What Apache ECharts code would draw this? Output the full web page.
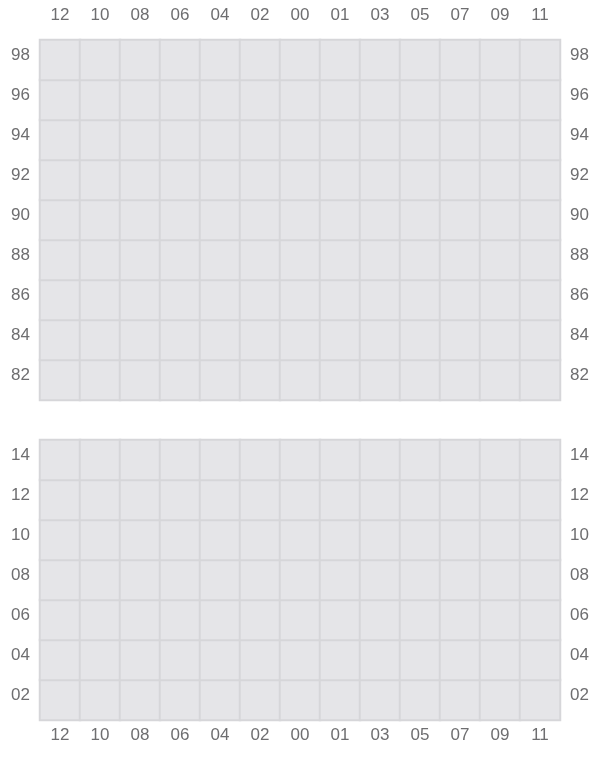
<!DOCTYPE html>
<html>
<head>
<meta charset="utf-8">
<script src="https://cdn.jsdelivr.net/npm/echarts@6/dist/echarts.min.js"></script>
<style>
  html, body { margin: 0; padding: 0; background: #fff; }
  #main { width: 600px; height: 760px; }
</style>
</head>
<body>
<div id="main"></div>
<script>
// x categories shared by both panels
var hours = ['12', '10', '08', '06', '04', '02', '00', '01', '03', '05', '07', '09', '11'];
// y categories, bottom to top
var topRows = ['82', '84', '86', '88', '90', '92', '94', '96', '98'];
var bottomRows = ['02', '04', '06', '08', '10', '12', '14'];
// every cell is empty (same flat value)
var cellValue = 0;

function cells(rows) {
  var out = [];
  for (var i = 0; i < hours.length; i++) {
    for (var j = 0; j < rows.length; j++) {
      out.push([i, j, cellValue]);
    }
  }
  return out;
}

var labelStyle = {
  color: '#6e6e70',
  fontSize: 17,
  fontFamily: 'Liberation Sans'
};

function catAxis(data, grid, pos, label) {
  return {
    type: 'category',
    data: data,
    gridIndex: grid,
    position: pos,
    axisLine: { show: false },
    axisTick: { show: false },
    splitLine: { show: false },
    axisLabel: Object.assign({}, labelStyle, label)
  };
}

// y labels sit a little above the row centre
var yLab = { margin: 10, verticalAlign: 'bottom', lineHeight: 10 };

var chart = echarts.init(document.getElementById('main'));

var option = {
  backgroundColor: '#ffffff',
  animation: false,
  grid: [
    { left: 40, top: 40, width: 520, height: 360 },
    { left: 40, top: 440, width: 520, height: 280 }
  ],
  xAxis: [
    catAxis(hours, 0, 'top', { margin: 16 }),
    catAxis(hours, 1, 'bottom', { margin: 7 })
  ],
  yAxis: [
    catAxis(topRows, 0, 'left', yLab),
    catAxis(topRows, 0, 'right', yLab),
    catAxis(bottomRows, 1, 'left', yLab),
    catAxis(bottomRows, 1, 'right', yLab)
  ],
  visualMap: {
    show: false,
    min: 0,
    max: 1,
    inRange: { color: ['#e5e5e8', '#e5e5e8'] }
  },
  series: [
    {
      type: 'heatmap',
      xAxisIndex: 0,
      yAxisIndex: 0,
      data: cells(topRows),
      itemStyle: { borderColor: '#d6d6d9', borderWidth: 2 },
      emphasis: { disabled: true }
    },
    {
      type: 'heatmap',
      xAxisIndex: 1,
      yAxisIndex: 2,
      data: cells(bottomRows),
      itemStyle: { borderColor: '#d6d6d9', borderWidth: 2 },
      emphasis: { disabled: true }
    }
  ]
};

chart.setOption(option);
</script>
</body>
</html>
